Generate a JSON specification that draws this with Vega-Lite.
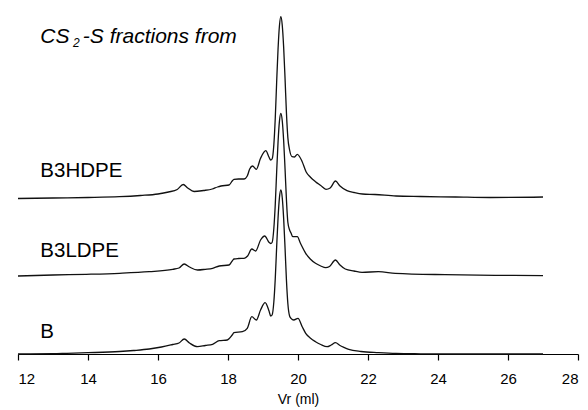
{
  "$schema": "https://vega.github.io/schema/vega-lite/v6.json",
  "width": 560,
  "height": 354,
  "autosize": {"type": "none"},
  "padding": {"left": 18, "top": 0, "right": 10, "bottom": 56},
  "background": "white",
  "config": {"view": {"stroke": null}, "font": "Liberation Sans"},
  "datasets": {
    "traces": [
      {"s":"B3HDPE","v":12.0,"h":155.5},{"s":"B3HDPE","v":13.0,"h":156},{"s":"B3HDPE","v":14.0,"h":156.5},{"s":"B3HDPE","v":14.9,"h":157.3},{"s":"B3HDPE","v":15.5,"h":158.5},{"s":"B3HDPE","v":16.0,"h":160},{"s":"B3HDPE","v":16.3,"h":162},{"s":"B3HDPE","v":16.55,"h":164.5},{"s":"B3HDPE","v":16.72,"h":169.5},{"s":"B3HDPE","v":16.85,"h":166},{"s":"B3HDPE","v":17.03,"h":162.5},{"s":"B3HDPE","v":17.3,"h":163.5},{"s":"B3HDPE","v":17.55,"h":165},{"s":"B3HDPE","v":17.7,"h":167},{"s":"B3HDPE","v":17.8,"h":168},{"s":"B3HDPE","v":18.03,"h":169},{"s":"B3HDPE","v":18.12,"h":173},{"s":"B3HDPE","v":18.17,"h":174.7},{"s":"B3HDPE","v":18.3,"h":175},{"s":"B3HDPE","v":18.46,"h":175},{"s":"B3HDPE","v":18.55,"h":178},{"s":"B3HDPE","v":18.62,"h":185},{"s":"B3HDPE","v":18.7,"h":188},{"s":"B3HDPE","v":18.81,"h":184.7},{"s":"B3HDPE","v":18.93,"h":195.7},{"s":"B3HDPE","v":19.08,"h":203.3},{"s":"B3HDPE","v":19.17,"h":197},{"s":"B3HDPE","v":19.22,"h":194},{"s":"B3HDPE","v":19.26,"h":195},{"s":"B3HDPE","v":19.31,"h":209.4},{"s":"B3HDPE","v":19.35,"h":235.5},{"s":"B3HDPE","v":19.39,"h":271.8},{"s":"B3HDPE","v":19.43,"h":305},{"s":"B3HDPE","v":19.47,"h":328.3},{"s":"B3HDPE","v":19.51,"h":337.3},{"s":"B3HDPE","v":19.55,"h":328.8},{"s":"B3HDPE","v":19.59,"h":306.9},{"s":"B3HDPE","v":19.63,"h":275.4},{"s":"B3HDPE","v":19.67,"h":241},{"s":"B3HDPE","v":19.71,"h":216.4},{"s":"B3HDPE","v":19.76,"h":204},{"s":"B3HDPE","v":19.83,"h":197.3},{"s":"B3HDPE","v":19.9,"h":197},{"s":"B3HDPE","v":19.98,"h":199.7},{"s":"B3HDPE","v":20.12,"h":192.3},{"s":"B3HDPE","v":20.23,"h":182.3},{"s":"B3HDPE","v":20.35,"h":177},{"s":"B3HDPE","v":20.5,"h":172.3},{"s":"B3HDPE","v":20.65,"h":168.5},{"s":"B3HDPE","v":20.8,"h":164.7},{"s":"B3HDPE","v":20.92,"h":166},{"s":"B3HDPE","v":21.07,"h":173},{"s":"B3HDPE","v":21.2,"h":168},{"s":"B3HDPE","v":21.4,"h":163.3},{"s":"B3HDPE","v":21.6,"h":161.5},{"s":"B3HDPE","v":21.84,"h":160},{"s":"B3HDPE","v":22.2,"h":159.5},{"s":"B3HDPE","v":22.8,"h":158},{"s":"B3HDPE","v":23.5,"h":157.5},{"s":"B3HDPE","v":24.5,"h":157},{"s":"B3HDPE","v":25.5,"h":156.5},{"s":"B3HDPE","v":27.0,"h":157},
      {"s":"B3LDPE","v":12.0,"h":78},{"s":"B3LDPE","v":13.0,"h":79},{"s":"B3LDPE","v":13.95,"h":79.7},{"s":"B3LDPE","v":14.9,"h":80.7},{"s":"B3LDPE","v":15.75,"h":82.3},{"s":"B3LDPE","v":16.42,"h":84.7},{"s":"B3LDPE","v":16.6,"h":86},{"s":"B3LDPE","v":16.75,"h":90},{"s":"B3LDPE","v":16.9,"h":87},{"s":"B3LDPE","v":17.13,"h":84},{"s":"B3LDPE","v":17.35,"h":84.7},{"s":"B3LDPE","v":17.56,"h":85.7},{"s":"B3LDPE","v":17.75,"h":88},{"s":"B3LDPE","v":18.03,"h":89},{"s":"B3LDPE","v":18.12,"h":93},{"s":"B3LDPE","v":18.17,"h":95},{"s":"B3LDPE","v":18.3,"h":95.5},{"s":"B3LDPE","v":18.46,"h":95.7},{"s":"B3LDPE","v":18.56,"h":98},{"s":"B3LDPE","v":18.68,"h":105},{"s":"B3LDPE","v":18.79,"h":103},{"s":"B3LDPE","v":18.93,"h":114},{"s":"B3LDPE","v":19.05,"h":118},{"s":"B3LDPE","v":19.17,"h":111.7},{"s":"B3LDPE","v":19.22,"h":110.5},{"s":"B3LDPE","v":19.26,"h":111.5},{"s":"B3LDPE","v":19.31,"h":125.7},{"s":"B3LDPE","v":19.35,"h":149.2},{"s":"B3LDPE","v":19.39,"h":181.9},{"s":"B3LDPE","v":19.43,"h":212},{"s":"B3LDPE","v":19.47,"h":232.9},{"s":"B3LDPE","v":19.51,"h":240.7},{"s":"B3LDPE","v":19.55,"h":233.3},{"s":"B3LDPE","v":19.59,"h":213.5},{"s":"B3LDPE","v":19.63,"h":185},{"s":"B3LDPE","v":19.67,"h":154.1},{"s":"B3LDPE","v":19.71,"h":131.8},{"s":"B3LDPE","v":19.76,"h":124},{"s":"B3LDPE","v":19.8,"h":121},{"s":"B3LDPE","v":19.85,"h":117.3},{"s":"B3LDPE","v":19.98,"h":117.3},{"s":"B3LDPE","v":20.07,"h":110.7},{"s":"B3LDPE","v":20.22,"h":100.7},{"s":"B3LDPE","v":20.35,"h":95},{"s":"B3LDPE","v":20.5,"h":90.7},{"s":"B3LDPE","v":20.65,"h":88},{"s":"B3LDPE","v":20.79,"h":86.3},{"s":"B3LDPE","v":20.9,"h":87.5},{"s":"B3LDPE","v":21.07,"h":94},{"s":"B3LDPE","v":21.2,"h":89},{"s":"B3LDPE","v":21.35,"h":85},{"s":"B3LDPE","v":21.6,"h":83},{"s":"B3LDPE","v":21.83,"h":81.7},{"s":"B3LDPE","v":22.3,"h":82.3},{"s":"B3LDPE","v":22.78,"h":80.7},{"s":"B3LDPE","v":24.2,"h":79.3},{"s":"B3LDPE","v":25.63,"h":78.7},{"s":"B3LDPE","v":27.0,"h":78.3},
      {"s":"B","v":12.0,"h":0},{"s":"B","v":13.0,"h":0.3},{"s":"B","v":13.4,"h":0.7},{"s":"B","v":14.0,"h":1.3},{"s":"B","v":14.9,"h":2.5},{"s":"B","v":15.3,"h":3.5},{"s":"B","v":15.75,"h":5},{"s":"B","v":16.1,"h":7},{"s":"B","v":16.42,"h":9.5},{"s":"B","v":16.6,"h":11},{"s":"B","v":16.75,"h":15},{"s":"B","v":16.9,"h":11},{"s":"B","v":17.13,"h":7.3},{"s":"B","v":17.35,"h":8.5},{"s":"B","v":17.56,"h":9.7},{"s":"B","v":17.75,"h":13.3},{"s":"B","v":17.98,"h":14},{"s":"B","v":18.12,"h":19},{"s":"B","v":18.17,"h":21.3},{"s":"B","v":18.41,"h":22.3},{"s":"B","v":18.55,"h":25.7},{"s":"B","v":18.68,"h":37.3},{"s":"B","v":18.81,"h":34},{"s":"B","v":18.93,"h":44},{"s":"B","v":19.06,"h":51.3},{"s":"B","v":19.17,"h":43.3},{"s":"B","v":19.22,"h":38},{"s":"B","v":19.26,"h":39},{"s":"B","v":19.31,"h":52.2},{"s":"B","v":19.35,"h":75.1},{"s":"B","v":19.39,"h":106.9},{"s":"B","v":19.43,"h":136},{"s":"B","v":19.47,"h":156.4},{"s":"B","v":19.51,"h":164},{"s":"B","v":19.55,"h":156.3},{"s":"B","v":19.59,"h":135.6},{"s":"B","v":19.63,"h":106},{"s":"B","v":19.67,"h":73.7},{"s":"B","v":19.71,"h":50.5},{"s":"B","v":19.76,"h":38},{"s":"B","v":19.8,"h":35.7},{"s":"B","v":19.88,"h":34},{"s":"B","v":20.0,"h":35.7},{"s":"B","v":20.12,"h":27.3},{"s":"B","v":20.22,"h":20.7},{"s":"B","v":20.35,"h":16},{"s":"B","v":20.5,"h":12.3},{"s":"B","v":20.65,"h":9.5},{"s":"B","v":20.83,"h":7.3},{"s":"B","v":20.95,"h":9},{"s":"B","v":21.07,"h":11.3},{"s":"B","v":21.2,"h":8.5},{"s":"B","v":21.31,"h":6.7},{"s":"B","v":21.45,"h":4.7},{"s":"B","v":21.8,"h":2.5},{"s":"B","v":22.3,"h":1.3},{"s":"B","v":22.8,"h":0.5},{"s":"B","v":23.5,"h":0.2},{"s":"B","v":24.5,"h":0},{"s":"B","v":27.0,"h":0}
    ],
    "labels": [
      {"t":"B3HDPE","v":12.638,"h":176.7},
      {"t":"B3LDPE","v":12.638,"h":97.3},
      {"t":"B","v":12.638,"h":15.7}
    ],
    "title": [
      {"t":"CS","v":12.638,"h":310.7},
      {"t":"-S fractions from","v":13.852,"h":310.7}
    ],
    "sub": [
      {"t":"2","v":13.57,"h":307}
    ]
  },
  "layer": [
    {
      "data": {"name": "traces"},
      "mark": {"type": "line", "interpolate": "monotone", "stroke": "#111111", "strokeWidth": 1.3},
      "encoding": {
        "x": {"field": "v", "type": "quantitative",
          "scale": {"domain": [12, 28], "nice": false, "zero": false},
          "axis": {"values": [12,14,16,18,20,22,24,26,28], "format": "d", "grid": false,
            "tickSize": 6, "tickColor": "#000000", "tickWidth": 1.2, "domainColor": "#000000", "domainWidth": 1.2,
            "labelFont": "Liberation Sans", "labelFontSize": 15, "labelColor": "#000000", "labelPadding": 11,
            "title": "Vr (ml)", "titleFont": "Liberation Sans", "titleFontSize": 14, "titleFontWeight": "normal",
            "titleColor": "#000000", "titlePadding": 6}},
        "y": {"field": "h", "type": "quantitative",
          "scale": {"domain": [0, 354], "nice": false, "zero": false}, "axis": null},
        "detail": {"field": "s"}
      }
    },
    {
      "data": {"name": "labels"},
      "mark": {"type": "text", "align": "left", "baseline": "alphabetic", "font": "Liberation Sans", "fontSize": 20.5, "color": "#000000"},
      "encoding": {
        "x": {"field": "v", "type": "quantitative"},
        "y": {"field": "h", "type": "quantitative"},
        "text": {"field": "t"}
      }
    },
    {
      "data": {"name": "title"},
      "mark": {"type": "text", "align": "left", "baseline": "alphabetic", "font": "Liberation Sans", "fontSize": 21, "fontStyle": "italic", "color": "#000000"},
      "encoding": {
        "x": {"field": "v", "type": "quantitative"},
        "y": {"field": "h", "type": "quantitative"},
        "text": {"field": "t"}
      }
    },
    {
      "data": {"name": "sub"},
      "mark": {"type": "text", "align": "left", "baseline": "alphabetic", "font": "Liberation Sans", "fontSize": 12, "fontStyle": "italic", "color": "#000000"},
      "encoding": {
        "x": {"field": "v", "type": "quantitative"},
        "y": {"field": "h", "type": "quantitative"},
        "text": {"field": "t"}
      }
    }
  ]
}
